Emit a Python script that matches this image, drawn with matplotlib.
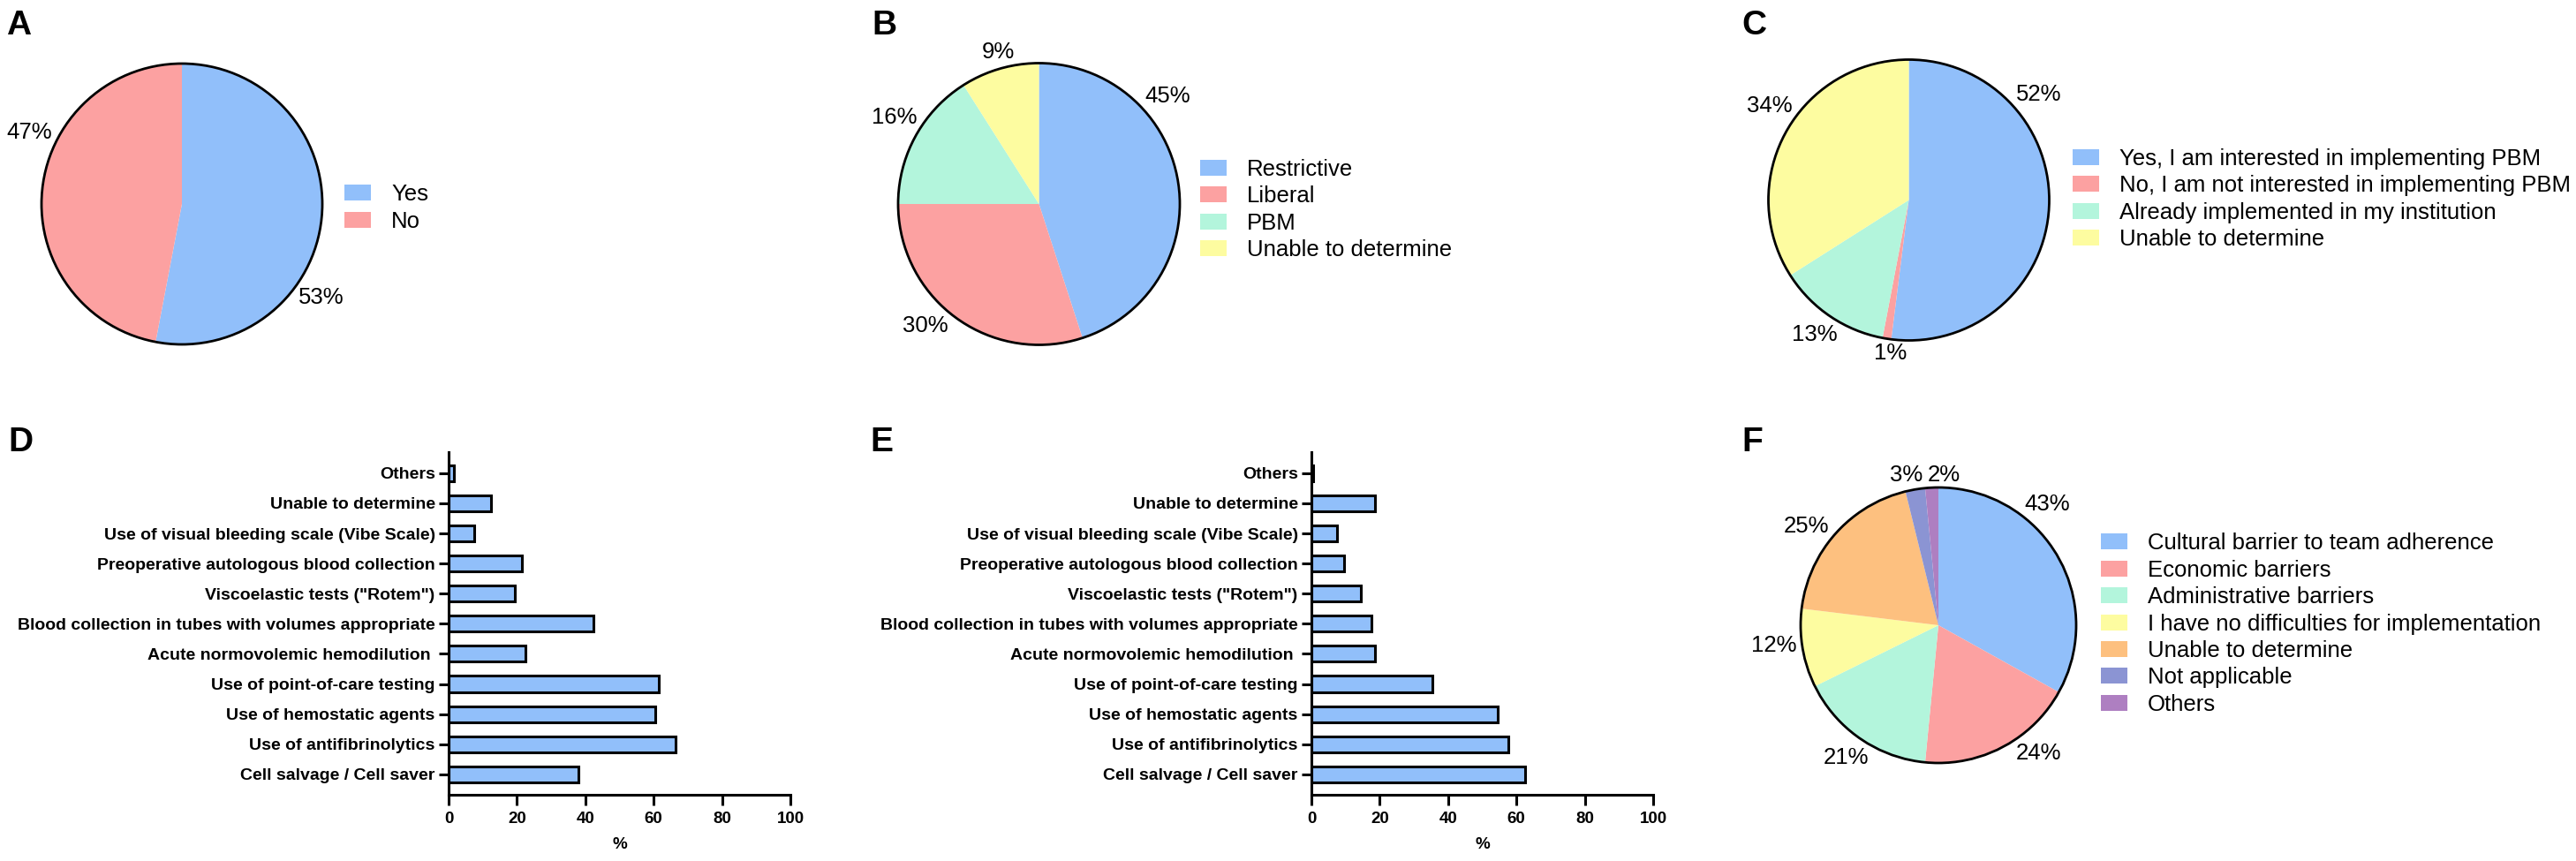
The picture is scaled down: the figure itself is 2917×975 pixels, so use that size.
import matplotlib
matplotlib.use('Agg')
import matplotlib.pyplot as plt
from matplotlib.patches import Circle
import numpy as np

W, H = 2917, 975
DPI = 100

# ---------------- data ----------------
a_labels = ['Yes', 'No']
a_values = [53, 47]

b_labels = ['Restrictive', 'Liberal', 'PBM', 'Unable to determine']
b_values = [45, 30, 16, 9]

c_labels = ['Yes, I am interested in implementing PBM',
            'No, I am not interested in implementing PBM',
            'Already implemented in my institution',
            'Unable to determine']
c_values = [52, 1, 13, 34]

f_labels = ['Cultural barrier to team adherence', 'Economic barriers',
            'Administrative barriers', 'I have no difficulties for implementation',
            'Unable to determine', 'Not applicable', 'Others']
f_values = [43, 24, 21, 12, 25, 3, 2]

bar_categories = ['Cell salvage / Cell saver', 'Use of antifibrinolytics',
                  'Use of hemostatic agents', 'Use of point-of-care testing',
                  'Acute normovolemic hemodilution ',
                  'Blood collection in tubes with volumes appropriate',
                  'Viscoelastic tests ("Rotem")',
                  'Preoperative autologous blood collection',
                  'Use of visual bleeding scale (Vibe Scale)',
                  'Unable to determine', 'Others']
d_values = [38, 66.5, 60.5, 61.5, 22.5, 42.5, 19.5, 21.5, 7.5, 12.5, 1.5]
e_values = [62.5, 57.5, 54.5, 35.5, 18.5, 17.5, 14.5, 9.5, 7.5, 18.5, 0.5]
x_ticks = [0, 20, 40, 60, 80, 100]

# ---------------- style ----------------
BLUE = '#91BFFA'
PINK = '#FCA1A1'
MINT = '#B3F5DC'
YELLOW = '#FDFCA0'
ORANGE = '#FDC07F'
SLATE = '#8B94D3'
PURPLE = '#AE7FC1'

FAM = ['Liberation Sans', 'DejaVu Sans']
plt.rcParams['font.family'] = FAM

PIE_FS = 18.5
LEG_FS = 18.5
YT_FS = 14
XT_FS = 13.5
LET_FS = 28

fig = plt.figure(figsize=(W / DPI, H / DPI), dpi=DPI)


def px_rect(x0, y0, x1, y1):
    return [x0 / W, 1 - y1 / H, (x1 - x0) / W, (y1 - y0) / H]


def draw_pie(center, r, values, labels, colors, label_angles, legend_x, first_y):
    cx, cy = center
    ax = fig.add_axes(px_rect(cx - r, cy - r, cx + r, cy + r))
    wedges, _ = ax.pie(values, colors=colors, startangle=90, counterclock=False,
                       radius=1, center=(0, 0), wedgeprops=dict(linewidth=0),
                       frame=False)
    ax.set_aspect('auto')
    ax.set_xlim(-1, 1)
    ax.set_ylim(-1, 1)
    ax.axis('off')
    for w in wedges:
        w.set_clip_on(False)
    ax.add_patch(Circle((0, 0), 1, fill=False, edgecolor='black', lw=2.0,
                        clip_on=False, zorder=5))
    for v, ang in zip(values, label_angles):
        txt = f'{v}%'
        t = np.deg2rad(ang)
        c, s = np.cos(t), np.sin(t)
        wpx = 17 * len(txt)
        hpx = 18
        extra = 5 + abs(c) * wpx / 2 + abs(s) * hpx / 2
        ax.annotate(txt, xy=(c, s),
                    xytext=(c * extra * 0.72, s * extra * 0.72),
                    textcoords='offset points', ha='center', va='center',
                    fontsize=PIE_FS, annotation_clip=False)
    fs_px = LEG_FS * DPI / 72
    top = first_y - 8.75
    fig.legend(wedges, labels, loc='upper left',
               bbox_to_anchor=(legend_x / W, 1 - top / H),
               bbox_transform=fig.transFigure, frameon=False,
               fontsize=LEG_FS, borderpad=0, borderaxespad=0,
               handlelength=30 / fs_px, handleheight=18 / fs_px,
               handletextpad=23 / fs_px, labelspacing=0.25)


def draw_bars(box, values):
    ax = fig.add_axes(px_rect(*box))
    y = np.arange(len(bar_categories))
    ax.barh(y, values, height=0.53, color=BLUE, edgecolor='black', linewidth=2.2)
    ax.set_yticks(y, bar_categories, fontweight='bold', fontsize=YT_FS)
    ax.set_xticks(x_ticks, [str(t) for t in x_ticks], fontweight='bold',
                  fontsize=XT_FS)
    ax.set_xlim(0, 100)
    ax.set_ylim(-0.68, len(bar_categories) - 1 + 0.7)
    for sp in ['top', 'right']:
        ax.spines[sp].set_visible(False)
    for sp in ['left', 'bottom']:
        ax.spines[sp].set_linewidth(2.2)
    ax.tick_params(axis='x', direction='out', length=8.4, width=2.2, pad=5)
    ax.tick_params(axis='y', direction='out', length=8, width=2.2, pad=3)
    ax.set_xlabel('%', fontweight='bold', fontsize=XT_FS, labelpad=9)


draw_pie((206, 231), 159, a_values, a_labels, [BLUE, PINK],
         [-34, 155], 390, 217)
draw_pie((1176.5, 231), 159.5, b_values, b_labels, [BLUE, PINK, MINT, YELLOW],
         [40, -133, 149, 105], 1359, 188.5)
draw_pie((2161.5, 226.5), 159, c_values, c_labels, [BLUE, PINK, MINT, YELLOW],
         [39, -97, -125, 146], 2347, 176.5)
draw_pie((2195, 708), 156, f_values, f_labels,
         [BLUE, PINK, MINT, YELLOW, ORANGE, SLATE, PURPLE],
         [48, -52, -125, -173, 143, 102, 88], 2379, 612)

draw_bars((508, 512, 895, 900), d_values)
draw_bars((1485, 512, 1872, 900), e_values)

for letter, (lx, ly) in zip('ABCDEF', [(7, 11), (987, 11), (1972, 11),
                                      (9, 483), (985, 483), (1972, 483)]):
    fig.text(lx / W, 1 - ly / H, letter, fontsize=LET_FS, fontweight='bold',
             ha='left', va='top')

fig.savefig('out.png', dpi=DPI)
